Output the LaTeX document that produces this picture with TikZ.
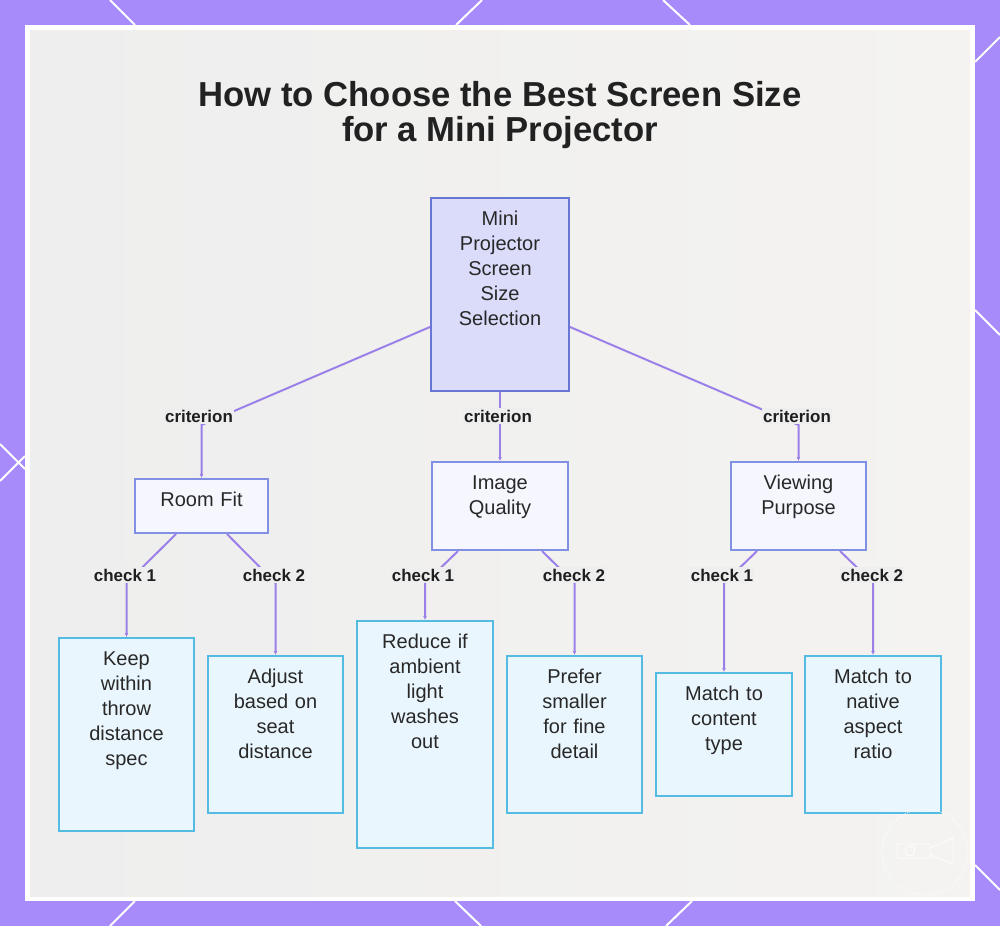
\documentclass[tikz,border=0pt]{standalone}
\usepackage{fontspec}
\setmainfont{Liberation Sans}
\definecolor{frame}{RGB}{167,139,250}
\definecolor{panel}{RGB}{238,238,238}
\definecolor{panelwarm}{RGB}{244,243,241}
\definecolor{linkcol}{RGB}{155,128,232}
\definecolor{rootfill}{RGB}{218,220,250}
\definecolor{rootline}{RGB}{104,118,212}
\definecolor{midfill}{RGB}{245,246,254}
\definecolor{midline}{RGB}{130,144,228}
\definecolor{leaffill}{RGB}{234,246,253}
\definecolor{leafline}{RGB}{84,188,226}
\definecolor{ink}{RGB}{40,40,40}
\usetikzlibrary{arrows.meta,calc}

\newcommand\boxfont{\fontsize{15}{18.75}\selectfont}
\newcommand\labfont{\fontsize{12.7}{14}\selectfont\bfseries}
\newcommand\titlefont{\fontsize{26}{26.8}\selectfont\bfseries}

\tikzset{
  card/.style 2 args={anchor=north, text width=#1, text height=20.25pt, text depth=#2,
    inner xsep=0pt, inner ysep=0pt, align=center, line width=1.5pt, font=\boxfont, text=ink},
  rootbox/.style={card={103.5pt}{124.5pt}, draw=rootline, fill=rootfill},
  midbox/.style={draw=midline, fill=midfill},
  leafbox/.style={draw=leafline, fill=leaffill},
  conn/.style={draw=linkcol, line width=1.5pt, -{Latex[length=3pt,width=3pt]}},
  edgelabel/.style={font=\labfont, text=black!88, fill=panel, inner sep=1pt},
  deco/.style={draw=white, line width=1.5pt},
  wm/.style={draw=white, line width=0.6pt, opacity=0.9}
}

\begin{document}
\begin{tikzpicture}[x=0.75pt,y=0.75pt,yscale=-1,xscale=1]
\useasboundingbox (0,0) rectangle (1000,926);

%Shape: Frame
\fill[frame] (0,0) rectangle (1000,926);
\draw[deco] (110,0) -- (135,25) (482,0) -- (456,25) (663,0) -- (690,25)
  (975,62) -- (1000,37) (975,310) -- (1000,335) (975,865) -- (1000,890)
  (0,444) -- (25,469) (0,481) -- (25,456)
  (135,901) -- (110,926) (455,901) -- (481,926) (692,901) -- (666,926);
\fill[white] (25,25) rectangle (975,901);
\shade[left color=panel, right color=panelwarm] (30,30) rectangle (970,896);

% Text Node
\draw (500,115) node (title) [font=\titlefont, align=center, text=black!87] {How to Choose the Best Screen Size\\for a Mini Projector};

%Shape: Root
\draw (500,197) node (root) [rootbox] {Mini\\Projector\\Screen\\Size\\Selection};

%Shape: Criteria
\draw (201.5,478) node (roomfit) [card={99.75pt}{20.25pt}, midbox] {Room Fit};
\draw (500,461) node (quality) [card={102pt}{45.75pt}, midbox] {Image\\Quality};
\draw (798.5,461) node (purpose) [card={101.25pt}{45.75pt}, midbox] {Viewing\\Purpose};

%Shape: Checks
\draw (126.5,637) node (throw) [card={101.25pt}{124.5pt}, leafbox] {Keep\\within\\throw\\distance\\spec};
\draw (275.5,655) node (seat) [card={101.25pt}{97.5pt}, leafbox] {Adjust\\based on\\seat\\distance};
\draw (425,620) node (ambient) [card={102pt}{150pt}, leafbox] {Reduce if\\ambient\\light\\washes\\out};
\draw (574.5,655) node (detail) [card={101.25pt}{97.5pt}, leafbox] {Prefer\\smaller\\for fine\\detail};
\draw (724,672) node (content) [card={102pt}{72pt}, leafbox] {Match to\\content\\type};
\draw (873,655) node (aspect) [card={102pt}{97.5pt}, leafbox] {Match to\\native\\aspect\\ratio};

%Straight Lines
\draw[conn] ([yshift=-48.75pt]root.south west) -- (roomfit.north |- 0,425) -- (roomfit.north);
\draw[conn] (root.south) -- (quality.north);
\draw[conn] ([yshift=-48.75pt]root.south east) -- (purpose.north |- 0,425) -- (purpose.north);

\draw[conn] ([xshift=-19.1pt]roomfit.south) -- (throw.north |- 0,583) -- (throw.north);
\draw[conn] ([xshift=19.1pt]roomfit.south) -- (seat.north |- 0,583) -- (seat.north);
\draw[conn] ([xshift=-31.5pt]quality.south) -- (ambient.north |- 0,583) -- (ambient.north);
\draw[conn] ([xshift=31.5pt]quality.south) -- (detail.north |- 0,583) -- (detail.north);
\draw[conn] ([xshift=-31.1pt]purpose.south) -- (content.north |- 0,583) -- (content.north);
\draw[conn] ([xshift=31.1pt]purpose.south) -- (aspect.north |- 0,583) -- (aspect.north);

% Text Node
\draw (199,416) node (crit1) [edgelabel] {criterion};
\draw (498,416) node (crit2) [edgelabel] {criterion};
\draw (797,416) node (crit3) [edgelabel] {criterion};
\draw (125,575) node (chk1) [edgelabel] {check 1};
\draw (274,575) node (chk2) [edgelabel] {check 2};
\draw (423,575) node (chk3) [edgelabel] {check 1};
\draw (574,575) node (chk4) [edgelabel] {check 2};
\draw (722,575) node (chk5) [edgelabel] {check 1};
\draw (872,575) node (chk6) [edgelabel] {check 2};

%Shape: Watermark
\draw[wm, dash pattern=on 1pt off 1pt] (925,852) circle [radius=43];
\draw[wm] (897,844) rectangle (930,858) (930,848) -- (953,838) -- (953,864) -- (930,855)
  (902,858) -- (902,861) (925,858) -- (925,861);
\draw[wm] (910,851) circle [radius=5];

\end{tikzpicture}
\end{document}
